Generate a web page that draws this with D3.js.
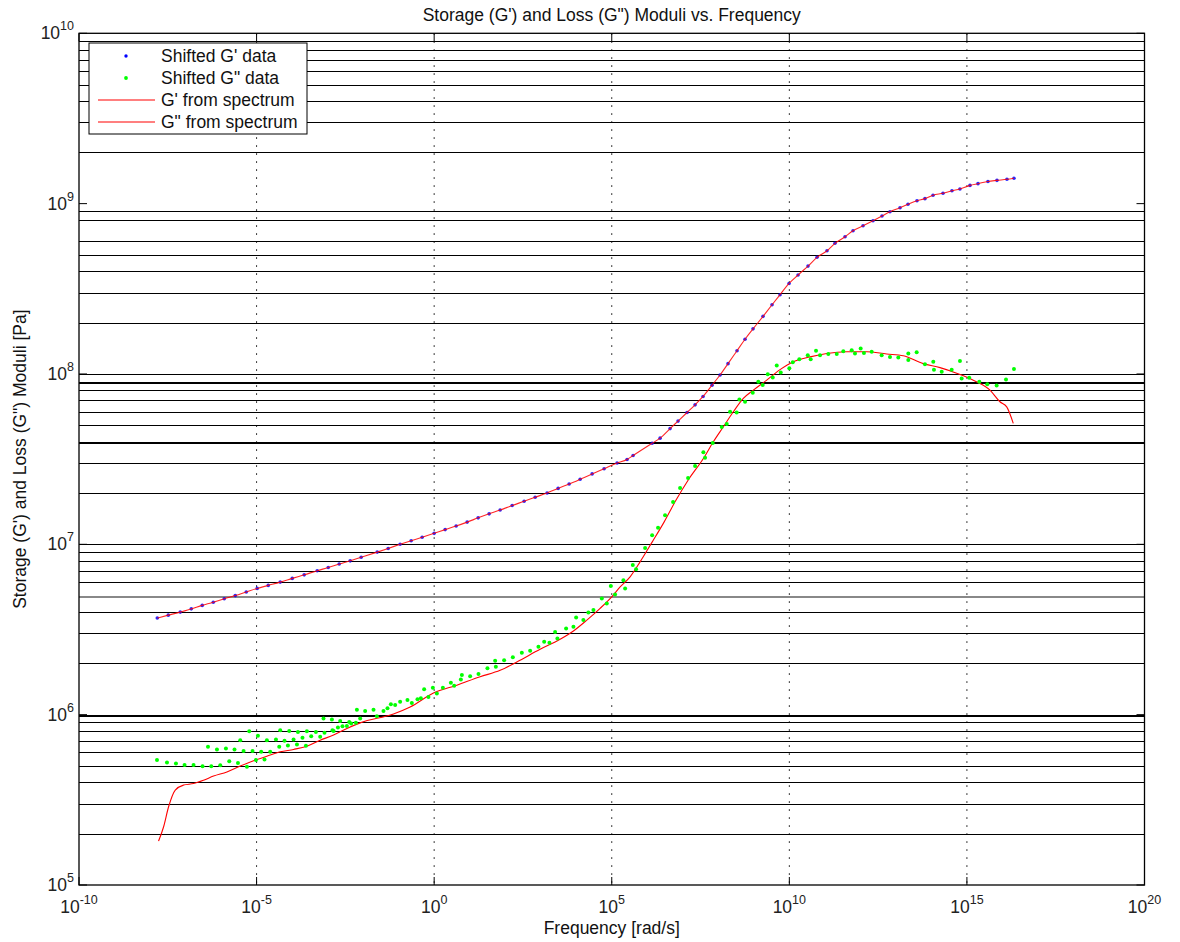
<!DOCTYPE html>
<html><head><meta charset="utf-8">
<script src="https://cdn.jsdelivr.net/npm/d3@7/dist/d3.min.js"></script>
<style>
html,body{margin:0;padding:0;background:#fff;}
svg{display:block;font-family:"Liberation Sans",Arial,sans-serif;}
</style></head>
<body>
<svg id="chart" width="1180" height="942"></svg>
<script>
// ---- data ----
const gpFreq = [1.60e-8,3.26e-8,7.10e-8,1.45e-7,2.95e-7,6.03e-7,1.23e-6,2.51e-6,5.12e-6,1.04e-5,2.13e-5,4.63e-5,1.01e-4,2.19e-4,5.09e-4,1.04e-3,2.12e-3,4.32e-3,8.81e-3,2.49e-2,5.07e-2,0.110,0.225,0.459,1,2.04,4.16,8.49,17.3,35.3,72.1,157,341,697,1.51e3,3.09e3,6.31e3,1.29e4,2.80e4,6.10e4,1.41e5,2.70e5,
 3.99e5,1.37e6,2.30e6,4.39e6,7.36e6,1.32e7,2.22e7,3.72e7,6.67e7,1.12e8,1.88e8,3.37e8,5.66e8,9.51e8,1.82e9,3.26e9,5.47e9,9.82e9,1.76e10,3.36e10,6.03e10,1.15e11,1.93e11,3.70e11,6.21e11,1.19e12,2.27e12,4.06e12,6.82e12,1.31e13,2.19e13,3.93e13,6.59e13,1.11e14,2.12e14,3.79e14,6.37e14,1.22e15,2.05e15,3.91e15,7.02e15,1.34e16,2.11e16];
const gpData = [3.69e6,3.84e6,4.00e6,4.18e6,4.38e6,4.57e6,4.79e6,5.00e6,5.25e6,5.51e6,5.74e6,6.00e6,6.31e6,6.62e6,7.00e6,7.31e6,7.66e6,8.00e6,8.39e6,9.00e6,9.46e6,1.00e7,1.05e7,1.10e7,1.16e7,1.22e7,1.28e7,1.35e7,1.43e7,1.51e7,1.59e7,1.69e7,1.79e7,1.89e7,2.00e7,2.13e7,2.26e7,2.41e7,2.59e7,2.78e7,3.00e7,3.15e7,
 3.32e7,3.92e7,4.20e7,4.78e7,5.29e7,5.94e7,6.59e7,7.38e7,8.60e7,9.86e7,1.15e8,1.37e8,1.60e8,1.84e8,2.18e8,2.55e8,2.92e8,3.40e8,3.81e8,4.30e8,4.84e8,5.29e8,5.85e8,6.39e8,6.93e8,7.41e8,7.94e8,8.46e8,8.96e8,9.46e8,9.91e8,1.04e9,1.07e9,1.12e9,1.15e9,1.19e9,1.22e9,1.28e9,1.31e9,1.35e9,1.37e9,1.39e9,1.41e9];
const gpSpectrum = gpData.slice();

const gppFreq = [1.57e-8,3.00e-8,5.37e-8,9.38e-8,1.68e-7,3.01e-7,5.30e-7,9.48e-7,1.70e-6,2.99e-6,5.35e-6,9.59e-6,1.67e-5,
 4.28e-7,7.66e-7,1.37e-6,2.39e-6,4.30e-6,7.69e-6,1.35e-5,2.42e-5,4.34e-5,7.62e-5,1.37e-4,2.45e-4,
 3.47e-6,6.21e-6,1.09e-5,1.95e-5,3.51e-5,6.12e-5,1.10e-4,1.96e-4,3.45e-4,6.18e-4,1.47e-3,2.62e-3,4.61e-3,8.26e-3,
 4.63e-5,8.30e-5,1.46e-4,2.61e-4,4.68e-4,8.17e-4,1.37e-3,1.95e-3,3.49e-3,6.25e-3,
 7.66e-4,1.32e-3,2.26e-3,4.06e-3,6.67e-3,
 1.14e-2,1.96e-2,2.44e-2,3.74e-2,4.85e-2,6.04e-2,7.98e-2,0.110,0.177,0.235,0.339,0.422,0.522,0.690,0.918,1.19,1.76,2.95,3.66,5.64,6.03,10.3,17.7,31.6,52.1,54.5,93.3,164,294,504,863,1.25e3,1.76e3,2.54e3,2.95e3,5.19e3,8.34e3,9.93e3,1.59e4,2.20e4,3.05e4,5.25e4,7.24e4,9.40e4,1.24e5,2.13e5,2.38e5,3.91e5,4.84e5,
 8.69e5,1.37e6,2.01e6,3.17e6,5.33e6,8.39e6,1.41e7,2.22e7,
 3.80e7,4.24e7,6.98e7,1.25e8,1.73e8,2.14e8,3.30e8,3.92e8,5.66e8,9.33e8,1.34e9,1.78e9,2.47e9,3.41e9,4.42e9,5.73e9,1.00e10,1.25e10,1.91e10,3.30e10,4.00e10,5.64e10,7.31e10,1.25e11,2.16e11,3.31e11,5.70e11,7.06e11,1.02e12,1.26e12,2.08e12,3.98e12,6.82e12,1.17e13,2.24e13,2.24e13,3.85e13,6.59e13,1.13e14,1.18e14,1.95e14,3.72e14,6.37e14,7.11e14,1.16e15,2.23e15,3.74e15,6.87e15,1.26e16,2.11e16];
const gppData = [5.41e5,5.24e5,5.17e5,5.07e5,5.07e5,4.98e5,4.98e5,5.05e5,5.33e5,5.21e5,4.94e5,5.41e5,5.46e5,
 6.47e5,6.24e5,6.33e5,6.24e5,6.11e5,6.11e5,6.05e5,6.05e5,6.47e5,6.59e5,6.68e5,6.56e5,
 7.08e5,8.00e5,7.51e5,7.08e5,7.15e5,7.02e5,7.15e5,7.31e5,7.48e5,7.41e5,8.03e5,8.55e5,8.87e5,9.50e5,
 8.10e5,8.02e5,7.92e5,8.00e5,7.92e5,7.82e5,8.10e5,8.41e5,8.59e5,8.95e5,
 9.50e5,9.37e5,9.19e5,9.07e5,1.07e6,
 1.05e6,1.07e6,9.80e5,1.05e6,1.09e6,1.15e6,1.14e6,1.19e6,1.22e6,1.17e6,1.23e6,1.25e6,1.41e6,1.27e6,1.44e6,1.33e6,1.44e6,1.54e6,1.48e6,1.61e6,1.71e6,1.68e6,1.73e6,1.87e6,2.07e6,1.91e6,2.09e6,2.17e6,2.31e6,2.37e6,2.50e6,2.68e6,2.64e6,3.06e6,2.80e6,3.21e6,3.28e6,3.72e6,3.59e6,3.98e6,4.11e6,4.81e6,4.50e6,5.69e6,5.08e6,6.16e6,5.51e6,7.55e6,7.14e6,
 9.50e6,1.13e7,1.25e7,1.48e7,1.77e7,2.14e7,2.45e7,2.88e7,
 3.47e7,3.22e7,3.94e7,4.89e7,5.08e7,6.00e7,5.95e7,7.09e7,6.87e7,7.76e7,9.00e7,8.61e7,9.98e7,9.55e7,1.12e8,1.02e8,1.08e8,1.17e8,1.22e8,1.29e8,1.22e8,1.37e8,1.29e8,1.31e8,1.31e8,1.36e8,1.38e8,1.32e8,1.41e8,1.33e8,1.35e8,1.29e8,1.26e8,1.25e8,1.32e8,1.21e8,1.34e8,1.14e8,1.18e8,1.06e8,1.03e8,1.06e8,1.19e8,9.42e7,9.50e7,9.00e7,8.69e7,8.57e7,9.29e7,1.07e8];

const gppSpecFreq = [1.74e-8,2.40e-8,3.33e-8,5.13e-8,8.79e-8,1.68e-7,3.21e-7,6.14e-7,1.46e-6,3.47e-6,8.20e-6,1.95e-5,4.63e-5,1.10e-4,2.61e-4,6.18e-4,1.47e-3,3.49e-3,8.26e-3,7.15e-2,0.211,0.955,4.35,19.7,72.1,213,962,3.52e3,8.34e3,1.99e4,4.70e4,1.00e5,1.72e5,3.28e5,6.28e5,1.37e6,2.97e6,6.47e6,1.41e7,3.80e7,7.26e7,1.39e8,2.65e8,5.07e8,9.70e8,2.31e9,5.47e9,1.30e10,3.83e10,1.13e11,4.13e11,1.51e12,5.51e12,1.62e13,5.91e13,1.75e14,5.15e14,1.51e15,4.46e15,8.51e15,1.32e16,2.02e16];
const gppSpectrum = [1.81e5,2.19e5,2.88e5,3.61e5,3.86e5,3.94e5,4.12e5,4.36e5,4.61e5,4.99e5,5.36e5,5.70e5,6.05e5,6.25e5,6.53e5,7.08e5,7.59e5,8.30e5,8.95e5,1.01e6,1.11e6,1.34e6,1.49e6,1.67e6,1.82e6,2.04e6,2.42e6,2.77e6,3.10e6,3.59e6,4.21e6,4.92e6,5.62e6,6.44e6,7.89e6,1.03e7,1.35e7,1.82e7,2.38e7,3.19e7,4.00e7,4.90e7,6.00e7,7.19e7,8.04e7,9.20e7,1.06e8,1.18e8,1.26e8,1.32e8,1.35e8,1.35e8,1.31e8,1.28e8,1.15e8,1.09e8,1.01e8,9.20e7,8.04e7,6.87e7,6.41e7,5.13e7];

const freqTicks = [1e-10,1e-5,1,1e5,1e10,1e15,1e20];
const freqTickExp = ["-10","-5","0","5","10","15","20"];
const modTicks = [1e5,1e6,1e7,1e8,1e9,1e10];
const modTickExp = ["5","6","7","8","9","10"];
const legendLabels = ["Shifted G' data","Shifted G\" data","G' from spectrum","G\" from spectrum"];
const titleText = "Storage (G') and Loss (G\") Moduli vs. Frequency";
const xLabelText = "Frequency [rad/s]";
const yLabelText = "Storage (G') and Loss (G\") Moduli [Pa]";

// ---- layout ----
const L = 79, R = 1144.5, T = 33.3, B = 885;
const svg = d3.select("#chart");
const x = d3.scaleLog().domain([1e-10,1e20]).range([L,R]);
const y = d3.scaleLog().domain([1e5,1e10]).range([B,T]);
const FS = 17.5;

// horizontal (minor) grid lines drawn solid as in the reference
const hidden = new Set([1e9, 7e8]);
const thick = new Set([9e7, 4e7, 1e6]);
const gray = new Set([5e6]);
const hVals = [];
for (let d = 5; d < 10; d++) {
  for (let k = 1; k <= 9; k++) {
    const v = +(k * Math.pow(10, d)).toPrecision(3);
    if (v <= 1e5 || hidden.has(v)) continue;
    hVals.push(v);
  }
}
svg.append("g").selectAll("line").data(hVals).join("line")
  .attr("x1", L).attr("x2", R)
  .attr("y1", d => Math.round(y(d)) + 0.5).attr("y2", d => Math.round(y(d)) + 0.5)
  .attr("stroke", d => gray.has(d) ? "#888" : "#000")
  .attr("stroke-width", d => (thick.has(d) || gray.has(d)) ? 2 : 1)
  .attr("shape-rendering", "crispEdges");

// vertical dotted grid
svg.append("g").selectAll("line").data(freqTicks.slice(1, -1)).join("line")
  .attr("x1", d => x(d)).attr("x2", d => x(d)).attr("y1", T).attr("y2", B)
  .attr("stroke", "#000").attr("stroke-width", 1).attr("stroke-dasharray", "1.5,6.5");

// axes box
svg.append("rect").attr("x", L).attr("y", T).attr("width", R - L).attr("height", B - T)
  .attr("fill", "none").attr("stroke", "#000").attr("stroke-width", 1.3);

// ticks (inward)
const tk = 8;
svg.append("g").selectAll("line").data(freqTicks).join("line")
  .attr("x1", d => x(d)).attr("x2", d => x(d)).attr("y1", B).attr("y2", B - tk)
  .attr("stroke", "#000");
svg.append("g").selectAll("line").data(freqTicks).join("line")
  .attr("x1", d => x(d)).attr("x2", d => x(d)).attr("y1", T).attr("y2", T + tk)
  .attr("stroke", "#000");
svg.append("g").selectAll("line").data(modTicks).join("line")
  .attr("x1", L).attr("x2", L + tk).attr("y1", d => y(d)).attr("y2", d => y(d))
  .attr("stroke", "#000");
svg.append("g").selectAll("line").data(modTicks).join("line")
  .attr("x1", R).attr("x2", R - tk).attr("y1", d => y(d)).attr("y2", d => y(d))
  .attr("stroke", "#000");

// tick labels
const xl = svg.append("g").selectAll("text").data(freqTicks).join("text")
  .attr("x", d => x(d)).attr("y", B + 28).attr("text-anchor", "middle")
  .attr("font-size", FS).attr("fill", "#222");
xl.append("tspan").text("10");
xl.append("tspan").attr("dy", -9).attr("font-size", 12.5).text((d, i) => freqTickExp[i]);

const yl = svg.append("g").selectAll("text").data(modTicks).join("text")
  .attr("x", 74).attr("y", d => y(d) + 6).attr("text-anchor", "end")
  .attr("font-size", FS).attr("fill", "#222");
yl.append("tspan").text("10");
yl.append("tspan").attr("dy", -9).attr("font-size", 12.5).text((d, i) => modTickExp[i]);

// titles
svg.append("text").attr("x", (L + R) / 2).attr("y", 21).attr("text-anchor", "middle")
  .attr("font-size", FS).attr("fill", "#111").text(titleText);
svg.append("text").attr("x", (L + R) / 2).attr("y", 934).attr("text-anchor", "middle")
  .attr("font-size", FS).attr("fill", "#111").text(xLabelText);
svg.append("text").attr("transform", `translate(26,${(T + B) / 2}) rotate(-90)`)
  .attr("text-anchor", "middle").attr("font-size", FS).attr("fill", "#111").text(yLabelText);

// curves
const line = d3.line().x(d => x(d[0])).y(d => y(d[1])).curve(d3.curveMonotoneX);
const gpPts = gpFreq.map((f, i) => [f, gpData[i]]);
const gpLine = gpFreq.map((f, i) => [f, gpSpectrum[i]]);
const gppPts = gppFreq.map((f, i) => [f, gppData[i]]);
const gppLine = gppSpecFreq.map((f, i) => [f, gppSpectrum[i]]);

svg.append("g").selectAll("circle").data(gpPts).join("circle")
  .attr("cx", d => x(d[0])).attr("cy", d => y(d[1])).attr("r", 1.8)
  .attr("fill", "#0000ff").attr("fill-opacity", 0.85);

svg.append("path").datum(gpLine).attr("d", line).attr("fill", "none")
  .attr("stroke", "#ff0000").attr("stroke-width", 1.1).attr("stroke-opacity", 0.85);
svg.append("path").datum(gppLine).attr("d", line).attr("fill", "none")
  .attr("stroke", "#ff0000").attr("stroke-width", 1.1);

svg.append("g").selectAll("circle").data(gppPts).join("circle")
  .attr("cx", d => x(d[0])).attr("cy", d => y(d[1])).attr("r", 2)
  .attr("fill", "#00ff00");

// legend
const lg = svg.append("g");
lg.append("rect").attr("x", 89).attr("y", 43).attr("width", 218).attr("height", 91)
  .attr("fill", "#fff").attr("stroke", "#000").attr("stroke-width", 1);
const rowY = [56, 78, 100, 122];
lg.selectAll("text").data(legendLabels).join("text")
  .attr("x", 161).attr("y", (d, i) => rowY[i] + 6).attr("font-size", FS).attr("fill", "#111")
  .text(d => d);
lg.append("circle").attr("cx", 126).attr("cy", rowY[0]).attr("r", 1.7).attr("fill", "#0000ff");
lg.append("circle").attr("cx", 126).attr("cy", rowY[1]).attr("r", 1.9).attr("fill", "#00ff00");
lg.selectAll("line").data([rowY[2], rowY[3]]).join("line")
  .attr("x1", 98).attr("x2", 155).attr("y1", d => d).attr("y2", d => d)
  .attr("stroke", "#ff0000").attr("stroke-width", 1.2);
</script>
</body></html>
